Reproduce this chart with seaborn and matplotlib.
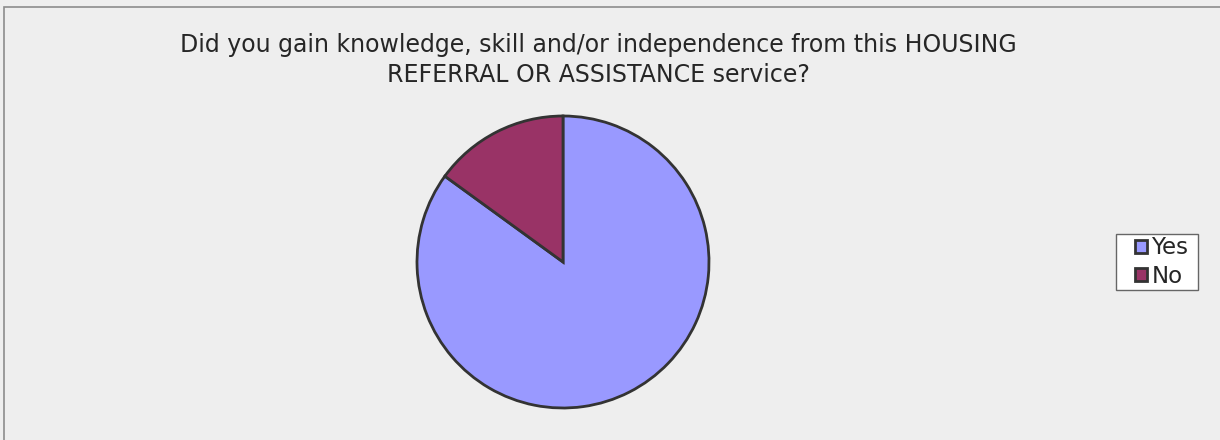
import matplotlib
matplotlib.use("Agg")
import matplotlib.pyplot as plt
import seaborn as sns
from matplotlib.patches import Rectangle

sns.set_theme(style="white")
plt.rcParams["font.family"] = ["DejaVu Sans"]

categories = ["Yes", "No"]
values = [85, 15]
colors = ["#9999FF", "#993366"]
title = ("Did you gain knowledge, skill and/or independence from this HOUSING\n"
         "REFERRAL OR ASSISTANCE service?")

W, H = 1220, 440
fig = plt.figure(figsize=(W / 100, H / 100), dpi=100)
fig.patch.set_facecolor("#EEEEEE")

# outer chart frame
fig.add_artist(Rectangle((4 / W, -0.1), 1.2, 1.1 - 7 / H, transform=fig.transFigure,
                         fill=False, edgecolor="#8C8C8C", linewidth=1.2))

cx, cy, r = 563, 262, 146
ax = fig.add_axes([(cx - r) / W, (H - cy - r) / H, 2 * r / W, 2 * r / H])
ax.set_facecolor("none")
wedges, _ = ax.pie(values, colors=colors, startangle=90, counterclock=False,
                   radius=1.0,
                   wedgeprops=dict(edgecolor="#333333", linewidth=2))
ax.set_xlim(-1.0, 1.0)
ax.set_ylim(-1.0, 1.0)
ax.set_aspect("equal")
ax.axis("off")

fig.text(598 / W, 1 - 60 / H, title, ha="center", va="center", fontsize=17,
         color="#262626", linespacing=1.28)

# legend box drawn separately so the entries can sit inset from its left edge
fig.add_artist(Rectangle((1116 / W, 1 - 290 / H), 82 / W, 56 / H,
                         transform=fig.transFigure, facecolor="white",
                         edgecolor="#666666", linewidth=1.0, zorder=2))
leg = fig.legend(wedges, categories, loc="center left",
                 bbox_to_anchor=(1135 / W, 1 - 262 / H), frameon=False,
                 fontsize=16.5, handlelength=0.52, handleheight=0.52,
                 handletextpad=0.2, borderpad=0, labelspacing=0.22,
                 borderaxespad=0)
leg.set_zorder(3)

fig.savefig("out.png", dpi=100, facecolor=fig.get_facecolor())
